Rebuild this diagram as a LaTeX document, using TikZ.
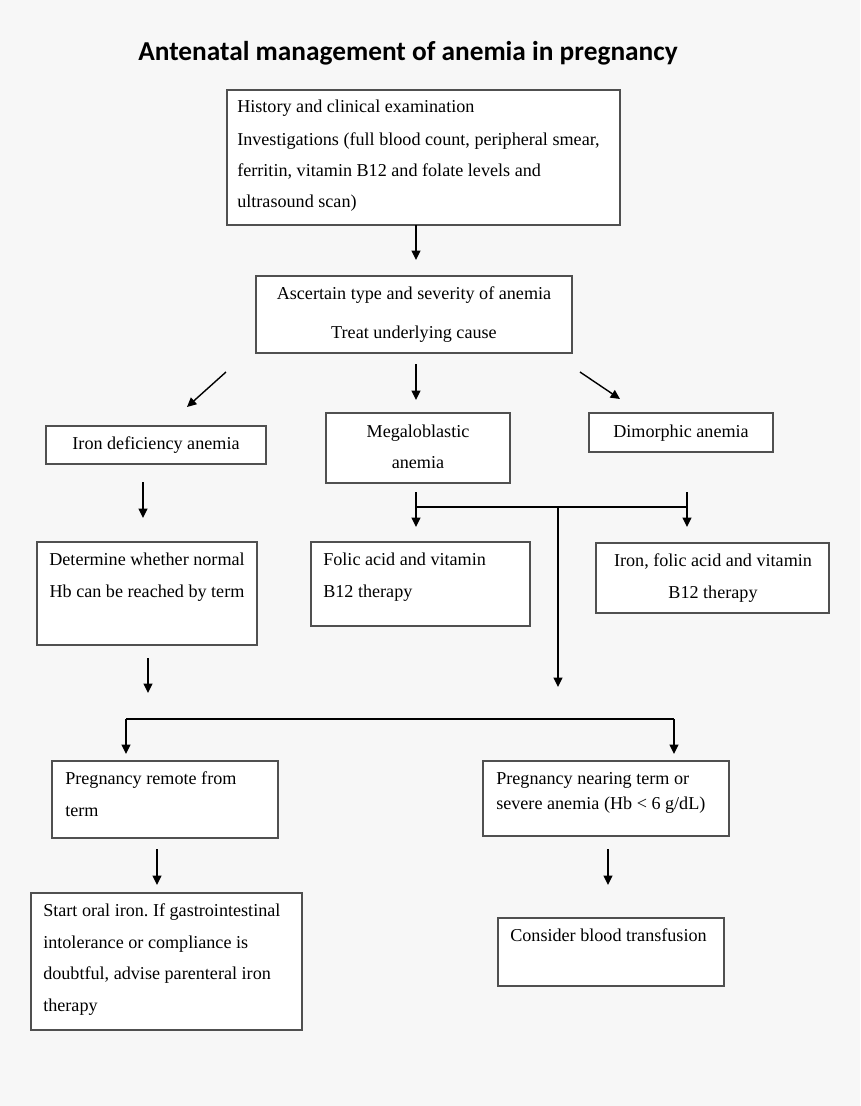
\documentclass[tikz,border=0pt]{standalone}
\usepackage{fontspec}
\setmainfont{Liberation Serif}
\newfontfamily\titlefont{Carlito}
\usetikzlibrary{arrows.meta,fit}
\definecolor{bg}{RGB}{247,247,247}
\definecolor{edge}{RGB}{80,80,80}
\frenchspacing
\begin{document}
\begin{tikzpicture}[x=0.75pt,y=-0.75pt,
  box/.style={draw=edge,fill=white,line width=0.8pt,inner sep=0pt},
  txt/.style={inner sep=0pt,font=\fontsize{13.6}{16}\selectfont},
  arr/.style={line width=1.05pt,-{Triangle[length=7pt,width=6.6pt]}},
  ln/.style={line width=1.05pt}]
\fill[bg] (0,0) rectangle (860,1106);
\useasboundingbox (0,0) rectangle (860,1106);

% title
\node[inner sep=0pt,anchor=base west,font=\titlefont\bfseries\fontsize{20.5}{24}\selectfont] (title) at (138,61) {Antenatal management of anemia in pregnancy};

% boxes
\node[box,fit={(227,90) (620,225)}] (b1) {};
\node[box,fit={(256,276) (572,353)}] (b2) {};
\node[box,fit={(46,426) (266,464)}] (iron) {};
\node[box,fit={(326,413) (510,483)}] (mega) {};
\node[box,fit={(589,413) (773,452)}] (dimo) {};
\node[box,fit={(37,542) (257,645)}] (det) {};
\node[box,fit={(311,542) (530,626)}] (folic) {};
\node[box,fit={(596,543) (829,613)}] (ifolic) {};
\node[box,fit={(52,761) (278,838)}] (remote) {};
\node[box,fit={(483,761) (729,836)}] (near) {};
\node[box,fit={(31,893) (302,1030)}] (oral) {};
\node[box,fit={(498,918) (724,986)}] (transf) {};

% texts
\node[txt,anchor=base west] (t1a) at (237,113) {History and clinical examination};
\node[txt,anchor=base west] (t1b) at (237,145) {Investigations (full blood count, peripheral smear,};
\node[txt,anchor=base west] (t1c) at (237,176) {ferritin, vitamin B12 and folate levels and};
\node[txt,anchor=base west] (t1d) at (237,207) {ultrasound scan)};

\node[txt,anchor=base] (t2a) at (414,299) {Ascertain type and severity of anemia};
\node[txt,anchor=base] (t2b) at (414,338) {Treat underlying cause};

\node[txt,anchor=base] (t3) at (156,449) {Iron deficiency anemia};
\node[txt,anchor=base] (t4a) at (418,437) {Megaloblastic};
\node[txt,anchor=base] (t4b) at (418,468) {anemia};
\node[txt,anchor=base] (t5) at (681,437) {Dimorphic anemia};

\node[txt,anchor=base] (t6a) at (147,565) {Determine whether normal};
\node[txt,anchor=base] (t6b) at (147,597) {Hb can be reached by term};
\node[txt,anchor=base west] (t7a) at (323,565) {Folic acid and vitamin};
\node[txt,anchor=base west] (t7b) at (323,597) {B12 therapy};
\node[txt,anchor=base] (t8a) at (713,566) {Iron, folic acid and vitamin};
\node[txt,anchor=base] (t8b) at (713,598) {B12 therapy};

\node[txt,anchor=base west] (t9a) at (65,784) {Pregnancy remote from};
\node[txt,anchor=base west] (t9b) at (65,816) {term};
\node[txt,anchor=base west] (t10a) at (496,784) {Pregnancy nearing term or};
\node[txt,anchor=base west] (t10b) at (496,809) {severe anemia (Hb < 6 g/dL)};

\node[txt,anchor=base west] (t11a) at (43,916) {Start oral iron. If gastrointestinal};
\node[txt,anchor=base west] (t11b) at (43,948) {intolerance or compliance is};
\node[txt,anchor=base west] (t11c) at (43,979) {doubtful, advise parenteral iron};
\node[txt,anchor=base west] (t11d) at (43,1011) {therapy};
\node[txt,anchor=base west] (t12) at (510,941) {Consider blood transfusion};

% connector end points
\coordinate (a1s) at (416,225);  \coordinate (a1e) at (416,260);
\coordinate (a2s) at (226,372);  \coordinate (a2e) at (187,407);
\coordinate (a3s) at (416,364);  \coordinate (a3e) at (416,400);
\coordinate (a4s) at (580,372);  \coordinate (a4e) at (620,399);
\coordinate (a5s) at (143,482);  \coordinate (a5e) at (143,518);
\coordinate (m1) at (416,492);   \coordinate (m1e) at (416,527);
\coordinate (m2) at (687,492);   \coordinate (m2e) at (687,527);
\coordinate (hl) at (416,507);   \coordinate (hr) at (687,507);
\coordinate (c1) at (558,507);   \coordinate (c1e) at (558,687);
\coordinate (a6s) at (148,658);  \coordinate (a6e) at (148,693);
\coordinate (l1) at (126,719);   \coordinate (l2) at (674,719);
\coordinate (l1e) at (126,754);  \coordinate (l2e) at (674,754);
\coordinate (a7s) at (157,849);  \coordinate (a7e) at (157,885);
\coordinate (a8s) at (608,849);  \coordinate (a8e) at (608,885);

% connectors
\draw[arr] (a1s) -- (a1e);
\draw[arr] (a2s) -- (a2e);
\draw[arr] (a3s) -- (a3e);
\draw[arr] (a4s) -- (a4e);
\draw[arr] (a5s) -- (a5e);
\draw[arr] (m1) -- (m1e);
\draw[arr] (m2) -- (m2e);
\draw[ln] (hl) -- (hr);
\draw[arr] (c1) -- (c1e);
\draw[arr] (a6s) -- (a6e);
\draw[ln] (l1) -- (l2);
\draw[arr] (l1) -- (l1e);
\draw[arr] (l2) -- (l2e);
\draw[arr] (a7s) -- (a7e);
\draw[arr] (a8s) -- (a8e);
\end{tikzpicture}
\end{document}
